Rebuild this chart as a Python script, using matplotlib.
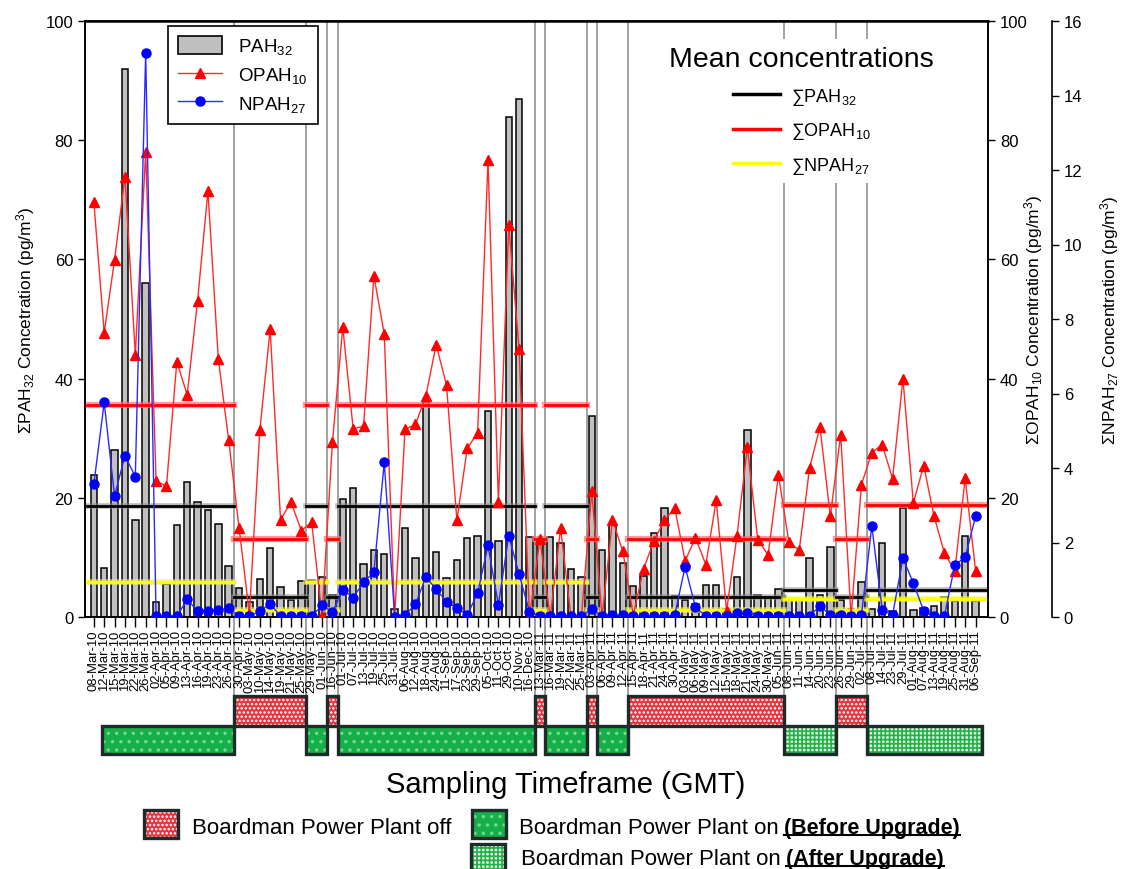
import numpy as np
import matplotlib
matplotlib.use('Agg')
import matplotlib.pyplot as plt
import matplotlib.patheffects as pe
from matplotlib.patches import Rectangle, Patch
from matplotlib.lines import Line2D
from matplotlib.transforms import blended_transform_factory

plt.rcParams['font.family'] = ['Liberation Sans', 'DejaVu Sans']
plt.rcParams['mathtext.fontset'] = 'custom'
plt.rcParams['mathtext.rm'] = 'Liberation Sans'
plt.rcParams['mathtext.it'] = 'Liberation Sans:italic'
plt.rcParams['mathtext.bf'] = 'Liberation Sans:bold'
plt.rcParams['hatch.linewidth'] = 1.2

# sampling dates
dates = ['08-Mar-10', '12-Mar-10', '15-Mar-10', '19-Mar-10', '22-Mar-10', '26-Mar-10',
         '02-Apr-10', '05-Apr-10', '09-Apr-10', '13-Apr-10', '16-Apr-10', '19-Apr-10',
         '23-Apr-10', '26-Apr-10', '30-Apr-10', '03-May-10', '10-May-10', '14-May-10',
         '19-May-10', '21-May-10', '25-May-10', '29-May-10', '01-Jun-10', '16-Jun-10',
         '01-Jul-10', '07-Jul-10', '13-Jul-10', '19-Jul-10', '25-Jul-10', '31-Jul-10',
         '06-Aug-10', '12-Aug-10', '18-Aug-10', '24-Aug-10', '11-Sep-10', '17-Sep-10',
         '23-Sep-10', '29-Sep-10', '05-Oct-10', '11-Oct-10', '29-Oct-10', '10-Nov-10',
         '16-Dec-10', '13-Mar-11', '16-Mar-11', '19-Mar-11', '22-Mar-11', '25-Mar-11',
         '03-Apr-11', '06-Apr-11', '09-Apr-11', '12-Apr-11', '15-Apr-11', '18-Apr-11',
         '21-Apr-11', '24-Apr-11', '30-Apr-11', '03-May-11', '06-May-11', '09-May-11',
         '12-May-11', '15-May-11', '18-May-11', '21-May-11', '24-May-11', '30-May-11',
         '05-Jun-11', '08-Jun-11', '11-Jun-11', '14-Jun-11', '20-Jun-11', '23-Jun-11',
         '26-Jun-11', '29-Jun-11', '02-Jul-11', '08-Jul-11', '14-Jul-11', '23-Jul-11',
         '29-Jul-11', '01-Aug-11', '07-Aug-11', '13-Aug-11', '19-Aug-11', '25-Aug-11',
         '31-Aug-11', '06-Sep-11']

# sum PAH32 (pg/m3), left axis
pah = [23.8, 8.3, 28.0, 91.9, 16.2, 56.1, 2.6, 5.5, 15.4, 22.7, 19.3, 18.0, 15.6, 8.6,
       4.9, 2.5, 6.3, 11.5, 5.1, 2.8, 6.1,
       6.2, 6.7,
       3.7,
       19.8, 21.6, 8.9, 11.2, 10.6, 1.3, 14.9, 9.9, 36.0, 10.9, 6.6, 9.5, 13.3, 13.6,
       34.5, 12.8, 83.9, 86.9, 13.4,
       13.1,
       13.4, 12.5, 8.0, 6.7,
       33.7,
       11.2, 15.6, 9.1,
       5.2, 6.8, 14.1, 18.3, 3.6, 2.8, 2.1, 5.4, 5.4, 1.3, 6.7, 31.3, 3.7, 3.4, 4.7,
       2.8, 2.8, 9.9, 3.7, 11.8,
       2.9, 1.3, 5.8,
       1.3, 12.5, 1.0, 18.3, 1.1, 1.5, 1.9, 3.4, 2.7, 13.6, 2.7]

# sum OPAH10 (pg/m3), first right axis
opah = [69.7, 47.7, 59.9, 73.9, 44.0, 78.1, 22.9, 21.9, 42.8, 37.3, 53.0, 71.5, 43.3, 29.7,
        15.0, 0.5, 31.3, 48.3, 16.3, 19.3, 14.5,
        15.9, 0.2,
        29.3,
        48.6, 31.6, 32.0, 57.2, 47.5, 0.0, 31.5, 32.3, 37.0, 45.7, 38.9, 16.2, 28.3, 30.9,
        76.7, 19.3, 65.7, 44.9, 0.0,
        13.1,
        0.0, 14.9, 0.0, 0.0,
        21.1,
        0.0, 16.3, 11.0,
        0.3, 8.1, 12.8, 16.2, 18.3, 9.4, 13.3, 8.8, 19.6, 1.0, 13.6, 28.5, 13.0, 10.4, 23.8,
        12.6, 11.2, 25.0, 31.9, 16.9,
        30.6, 0.0, 22.2,
        27.6, 28.9, 23.2, 40.0, 19.1, 25.4, 16.9, 10.7, 7.8, 23.3, 7.8]

# sum NPAH27 (pg/m3), second right axis
npah = [3.56, 5.76, 3.25, 4.33, 3.77, 15.15, 0.02, 0.02, 0.02, 0.47, 0.16, 0.16, 0.19, 0.24,
        0.02, 0.02, 0.15, 0.36, 0.02, 0.02, 0.02,
        0.02, 0.31,
        0.13,
        0.73, 0.52, 0.93, 1.21, 4.15, 0.0, 0.05, 0.34, 1.07, 0.75, 0.41, 0.24, 0.05, 0.64,
        1.92, 0.33, 2.18, 1.15, 0.14,
        0.02,
        0.02, 0.02, 0.02, 0.02,
        0.22,
        0.02, 0.05, 0.05,
        0.02, 0.02, 0.02, 0.02, 0.05, 1.35, 0.26, 0.02, 0.02, 0.02, 0.1, 0.1, 0.02, 0.02, 0.02,
        0.02, 0.02, 0.02, 0.3, 0.05,
        0.05, 0.02, 0.05,
        2.44, 0.2, 0.05, 1.58, 0.91, 0.17, 0.02, 0.03, 1.4, 1.6, 2.7]

# plant status periods (first and last sample index)
period_start = [0, 14, 21, 23, 24, 43, 44, 48, 49, 52, 67, 72, 75]
period_end = [13, 20, 22, 23, 42, 43, 47, 48, 51, 66, 71, 74, 85]
period_state = ['before', 'off', 'before', 'off', 'before', 'off', 'before', 'off',
                'before', 'off', 'after', 'off', 'after']
period_has_mean = [True, True, True, True, True, True, True, True,
                   False, True, True, True, True]

# mean concentrations per plant status (read against the left axis scale)
mean_pah = {'before': 18.7, 'off': 3.3, 'after': 4.6}
mean_opah = {'before': 35.5, 'off': 13.1, 'after': 18.8}
mean_npah = {'before': 5.9, 'off': 1.1, 'after': 3.0}

W, H = 1124, 870
fig = plt.figure(figsize=(W / 100, H / 100), dpi=100)
ax1 = fig.add_axes([85 / W, 1 - 618 / H, 903 / W, 596 / H])
ax2 = ax1.twinx()
ax3 = ax1.twinx()
ax3.spines['right'].set_position(('axes', (1052 - 85) / 903))

x = np.arange(len(dates))
xmin, xmax = -0.85, 86.2

ax1.bar(x, pah, width=0.62, color='#c0c0c0', edgecolor='black', linewidth=1.1, zorder=3)
ax2.plot(x, opah, color='#ff2a2a', lw=1.0, marker='^', ms=7.5, mec='red', mfc='red', zorder=3)
ax3.plot(x, npah, color='#2a2aff', lw=1.0, marker='o', ms=6.5, mec='blue', mfc='blue', zorder=3)

# separators between plant status periods
trans = blended_transform_factory(ax1.transData, ax1.transAxes)
for s in period_start[1:]:
    ax1.plot([s - 0.5, s - 0.5], [1, -0.1326], transform=trans, color='#9a9a9a',
             lw=1.3, clip_on=False, zorder=1)

# mean lines per period
for s, e, st, show in zip(period_start, period_end, period_state, period_has_mean):
    if not show:
        continue
    left = xmin + 0.2 if s == 0 else s - 0.5
    right = xmax - 0.1 if e == len(dates) - 1 else e + 0.5
    ax1.plot([left, right], [mean_pah[st]] * 2, color='black', lw=2.0, zorder=4,
             path_effects=[pe.withStroke(linewidth=4, foreground='#8c8c8c', alpha=0.6)])
    ax1.plot([left, right], [mean_npah[st]] * 2, color='#ffff00', lw=2.0, zorder=4,
             path_effects=[pe.withStroke(linewidth=4, foreground='#f0f060', alpha=0.7)])
    ax2.plot([left, right], [mean_opah[st]] * 2, color='#ff0000', lw=2.0, zorder=2,
             path_effects=[pe.withStroke(linewidth=4.5, foreground='#ff7070', alpha=0.7)])

# plant status boxes under the axis
box_style = {
    'off': dict(face='#e8323c', hatch='....', hcolor='white'),
    'before': dict(face='#16b04a', hatch='..', hcolor='#7ad890'),
    'after': dict(face='#e6f8e6', hatch='++++', hcolor='#22b048'),
}
row_y = {'off': (-0.1829, 0.0503), 'before': (-0.2299, 0.047), 'after': (-0.2299, 0.047)}
for s, e, st in zip(period_start, period_end, period_state):
    left = 0.75 if s == 0 else s - 0.5
    right = 85.6 if e == len(dates) - 1 else e + 0.5
    y0, h = row_y[st]
    bs = box_style[st]
    ax1.add_patch(Rectangle((left, y0), right - left, h, transform=trans, clip_on=False,
                            facecolor=bs['face'], edgecolor='none', zorder=5))
    ax1.add_patch(Rectangle((left, y0), right - left, h, transform=trans, clip_on=False,
                            facecolor='none', edgecolor=bs['hcolor'], hatch=bs['hatch'],
                            lw=0, zorder=5))
    ax1.add_patch(Rectangle((left, y0), right - left, h, transform=trans, clip_on=False,
                            facecolor='none', edgecolor='#1e2b2b', lw=2.4, zorder=6))

# axes formatting
ax1.set_xlim(xmin, xmax)
ax1.set_ylim(0, 100)
ax2.set_ylim(0, 100)
ax3.set_ylim(0, 16)
ax1.set_xticks(x)
ax1.set_xticklabels(dates, rotation=90, fontsize=9.4)
ax1.tick_params(axis='x', length=7, width=1, pad=2)
ax1.set_yticks(range(0, 101, 20))
ax2.set_yticks(range(0, 101, 20))
ax3.set_yticks(range(0, 17, 2))
for a in (ax1, ax2, ax3):
    a.tick_params(axis='y', labelsize=12, length=5, width=1)
    for sp in a.spines.values():
        sp.set_linewidth(1.2)
ax3.spines['left'].set_visible(False)
ax3.spines['top'].set_visible(False)
ax3.spines['bottom'].set_visible(False)
ax1.spines['top'].set_linewidth(1.8)

ax1.set_ylabel('ΣPAH$_{32}$ Concetration (pg/m$^{3}$)', fontsize=12.5, labelpad=6)
ax2.set_ylabel('ΣOPAH$_{10}$ Concentration (pg/m$^{3}$)', fontsize=12.5, labelpad=-4)
ax3.set_ylabel('ΣNPAH$_{27}$ Concentration (pg/m$^{3}$)', fontsize=12.5, labelpad=11)

# legends
h_series = [Patch(facecolor='#c0c0c0', edgecolor='black', lw=1.2),
            Line2D([], [], color='#ff2a2a', lw=1, marker='^', ms=7.5, mec='red', mfc='red'),
            Line2D([], [], color='#2a2aff', lw=1, marker='o', ms=6.5, mec='blue', mfc='blue')]
leg1 = ax3.legend(h_series, ['PAH$_{32}$', 'OPAH$_{10}$', 'NPAH$_{27}$'],
                  loc='upper left', bbox_to_anchor=(0.092, 0.992), borderaxespad=0,
                  fontsize=13.5, fancybox=False, edgecolor='black', framealpha=1,
                  handlelength=2.3, handleheight=1.1, labelspacing=0.45, borderpad=0.55,
                  handletextpad=0.9)
leg1.get_frame().set_linewidth(1.2)
leg1.set_zorder(20)

h_mean = [Line2D([], [], color='black', lw=2.5),
          Line2D([], [], color='red', lw=2.5),
          Line2D([], [], color='#ffff00', lw=2.5)]
leg2 = ax3.legend(h_mean, ['∑PAH$_{32}$', '∑OPAH$_{10}$', '∑NPAH$_{27}$'],
                  title='Mean concentrations', title_fontsize=20.5, fontsize=13,
                  loc='upper right', bbox_to_anchor=(0.948, 0.97), borderaxespad=0,
                  frameon=True, facecolor='white', edgecolor='none', framealpha=1,
                  handlelength=2.6, labelspacing=0.75, handletextpad=0.6)
leg2.set_zorder(20)
ax3.add_artist(leg1)

# x axis title and plant status legend
fig.text(566 / W, 1 - 793 / H, 'Sampling Timeframe (GMT)', fontsize=21,
         ha='center', va='baseline')

def key_box(x0, y0, st):
    bs = box_style[st]
    for kw in (dict(facecolor=bs['face'], edgecolor='none'),
               dict(facecolor='none', edgecolor=bs['hcolor'], hatch=bs['hatch'], lw=0),
               dict(facecolor='none', edgecolor='#1e2b2b', lw=2.4)):
        fig.add_artist(Rectangle((x0 / W, 1 - (y0 + 28) / H), 34 / W, 28 / H,
                                 transform=fig.transFigure, **kw))

key_box(144, 811, 'off')
key_box(472, 811, 'before')
key_box(471, 845, 'after')

fig.text(192 / W, 1 - 834 / H, 'Boardman Power Plant off', fontsize=16, va='baseline')
t_on1 = fig.text(519 / W, 1 - 834 / H, 'Boardman Power Plant on', fontsize=16, va='baseline')
t_on2 = fig.text(521 / W, 1 - 865 / H, 'Boardman Power Plant on', fontsize=16, va='baseline')

fig.canvas.draw()
rend = fig.canvas.get_renderer()
for t, word, yb in ((t_on1, '(Before Upgrade)', 834), (t_on2, '(After Upgrade)', 865)):
    bb = t.get_window_extent(rend)
    tb = fig.text((bb.x1 + 5) / W, 1 - yb / H, word, fontsize=15.5, fontweight='bold',
                  va='baseline')
    bb2 = tb.get_window_extent(rend)
    fig.add_artist(Line2D([bb2.x0 / W, bb2.x1 / W], [1 - (yb + 2) / H] * 2,
                          transform=fig.transFigure, color='black', lw=1.5))

fig.savefig('out.png', dpi=100)
